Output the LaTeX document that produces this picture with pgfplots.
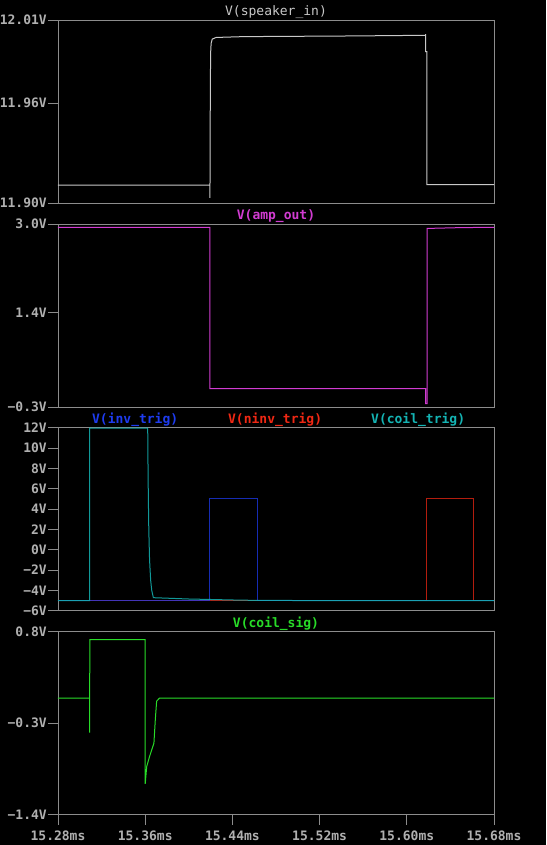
\documentclass[border=0pt]{standalone}
\usepackage{fontspec}
\usepackage{pgfplots}
\pgfplotsset{compat=1.18}
\newfontfamily\monof{DejaVu Sans Mono}
\newcommand\lab{\monof\fontsize{13}{15}\selectfont}
\definecolor{axgray}{HTML}{8C8C8C}
\definecolor{tkgray}{HTML}{B0B0B0}
\definecolor{spk}{HTML}{C8C8C8}
\definecolor{amp}{HTML}{D23CD2}
\definecolor{inv}{HTML}{1E3CF0}
\definecolor{ninv}{HTML}{F02814}
\definecolor{coil}{HTML}{14B4B4}
\definecolor{sig}{HTML}{28DC28}
\pgfplotsset{ltsp/.style={
  scale only axis, width=436pt, height=183pt,
  anchor=south west,
  xmin=15.28, xmax=15.68,
  axis line style={draw=axgray, line width=0.9pt},
  tick style={draw=axgray, line width=0.9pt},
  major tick length=10pt, tick align=outside,
  ytick pos=left, xtick=\empty,
  yticklabel style={font=\lab\bfseries, text=tkgray, inner xsep=1pt},
  xticklabel style={font=\lab\bfseries, text=tkgray, inner ysep=6pt},
  clip mode=individual,
  every axis plot/.append style={line width=1pt, no markers},
}}
\begin{document}
\begin{tikzpicture}
\useasboundingbox (0,0) rectangle (546pt,845pt);
\fill[black] (0,0) rectangle (546pt,845pt);
% Panel 1
\begin{axis}[ltsp, at={(58pt,642pt)}, ymin=11.90, ymax=12.01,
  ytick={11.90,11.96,12.01}, yticklabels={11.90V,11.96V,12.01V}]
\addplot[spk] coordinates {(15.28,11.9108) (15.4194,11.9108) (15.4194,11.903) (15.4197,11.96) (15.4200,11.990) (15.4205,11.996) (15.4215,11.9985) (15.425,11.9995) (15.45,12.0000) (15.55,12.0004) (15.6172,12.0008) (15.6173,12.0015) (15.6173,11.991) (15.6185,11.991) (15.6185,11.911) (15.68,11.911)};
\node[font=\lab, text=spk, anchor=base] at (rel axis cs:0.5,1) [yshift=4.3pt] {V(speaker\_in)};
\end{axis}
% Panel 2
\begin{axis}[ltsp, at={(58pt,438pt)}, ymin=-0.3, ymax=3.0,
  ytick={-0.3,1.4,3.0}, yticklabels={−0.3V,1.4V,3.0V}]
\addplot[amp] coordinates {(15.28,2.94) (15.4194,2.94) (15.4194,0.03) (15.6173,0.03) (15.6173,-0.24) (15.6187,-0.24) (15.6187,2.92) (15.65,2.935) (15.68,2.94)};
\node[font=\lab\bfseries, text=amp, anchor=base] at (rel axis cs:0.5,1) [yshift=4.3pt] {V(amp\_out)};
\end{axis}
% Panel 3
\begin{axis}[ltsp, at={(58pt,234.3pt)}, ymin=-6, ymax=12,
  ytick={-6,-4,-2,0,2,4,6,8,10,12}, yticklabels={−6V,−4V,−2V,0V,2V,4V,6V,8V,10V,12V}]
\addplot[ninv, opacity=0.75] coordinates {(15.28,-5) (15.618,-5) (15.618,5) (15.6614,5) (15.6614,-5) (15.68,-5)};
\addplot[inv, opacity=0.75] coordinates {(15.28,-5) (15.4194,-5) (15.4194,5) (15.4626,5) (15.4626,-5) (15.68,-5)};
\addplot[coil, opacity=0.85] coordinates {(15.28,-5) (15.309,-5) (15.309,11.95) (15.3623,11.95) (15.3626,8) (15.3629,5) (15.3633,2) (15.3640,-1) (15.3650,-3) (15.3660,-4) (15.3675,-4.72) (15.40,-4.85) (15.45,-4.97) (15.50,-5.0) (15.68,-5.0)};
\node[font=\lab\bfseries, text=inv, anchor=base] at (rel axis cs:0.177,1) [yshift=4.3pt] {V(inv\_trig)};
\node[font=\lab\bfseries, text=ninv, anchor=base] at (rel axis cs:0.498,1) [yshift=4.3pt] {V(ninv\_trig)};
\node[font=\lab\bfseries, text=coil, anchor=base] at (rel axis cs:0.826,1) [yshift=4.3pt] {V(coil\_trig)};
\end{axis}
% Panel 4
\begin{axis}[ltsp, at={(58pt,30.3pt)}, ymin=-1.4, ymax=0.8,
  ytick={-1.4,-0.3,0.8}, yticklabels={−1.4V,−0.3V,0.8V},
  xtick={15.28,15.36,15.44,15.52,15.60,15.68}, xtick pos=bottom,
  xticklabels={15.28ms,15.36ms,15.44ms,15.52ms,15.60ms,15.68ms}]
\addplot[sig] coordinates {(15.28,0.0) (15.309,0.0) (15.309,-0.414) (15.3092,0.704) (15.36,0.704) (15.36,-1.03) (15.3614,-0.82) (15.3640,-0.70) (15.366,-0.62) (15.368,-0.54) (15.3693,-0.25) (15.3705,-0.035) (15.373,0.0) (15.68,0.0)};
\node[font=\lab\bfseries, text=sig, anchor=base] at (rel axis cs:0.5,1) [yshift=4.3pt] {V(coil\_sig)};
\end{axis}
\end{tikzpicture}
\end{document}
